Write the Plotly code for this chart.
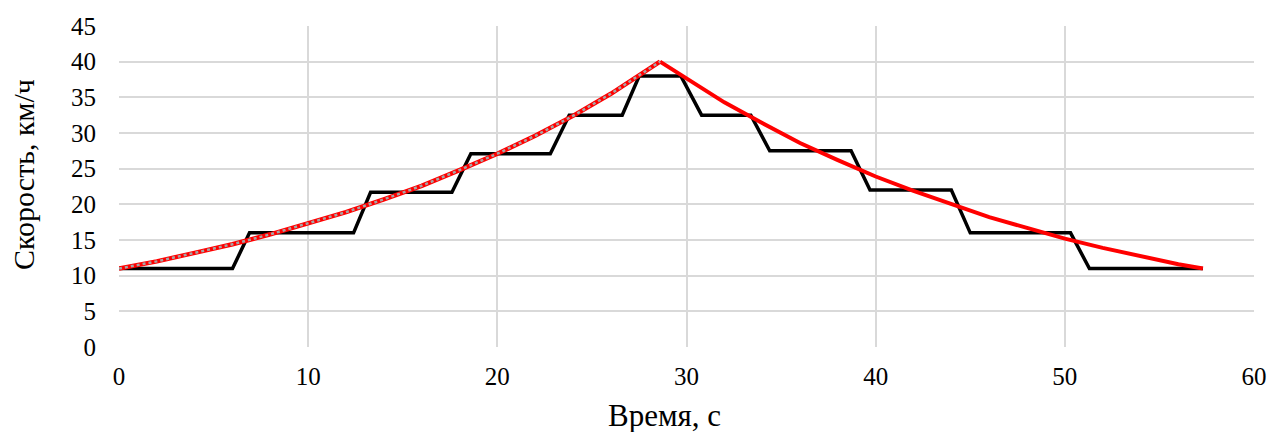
import plotly.graph_objects as go

# Stepped speed profile (black)
step_t = [0, 6.0, 6.9, 12.4, 13.3, 17.6, 18.6, 22.8, 23.8, 26.6, 27.5,
          29.7, 30.8, 33.4, 34.4, 38.7, 39.7, 44.0, 45.0, 50.3, 51.3, 57.3]
step_v = [11, 11, 16, 16, 21.7, 21.7, 27.1, 27.1, 32.5, 32.5, 38,
          38, 32.5, 32.5, 27.5, 27.5, 22, 22, 16, 16, 11, 11]

# Smooth speed curve (red), acceleration and deceleration parts
acc_t = [0, 2, 4, 6, 8, 10, 12, 14, 16, 18, 20, 22, 24, 26, 28.6]
acc_v = [11.0, 12.0, 13.2, 14.4, 15.8, 17.3, 18.9, 20.7, 22.6, 24.8, 27.1, 29.6, 32.4, 35.5, 40.0]
dec_t = [28.6, 30, 32, 34, 36, 38, 40, 42, 44, 46, 48, 50, 52, 54, 56, 57.3]
dec_v = [40.0, 37.6, 34.3, 31.4, 28.6, 26.2, 23.9, 21.9, 20.0, 18.2, 16.7, 15.2, 13.9, 12.7, 11.6, 11.0]

x_ticks = [0, 10, 20, 30, 40, 50, 60]
y_ticks = [0, 5, 10, 15, 20, 25, 30, 35, 40, 45]
x_title = "Время, с"
y_title = "Скорость, км/ч"

fig = go.Figure()
fig.add_trace(go.Scatter(x=step_t, y=step_v, mode="lines",
                         line=dict(color="black", width=3.5), showlegend=False))
fig.add_trace(go.Scatter(x=dec_t, y=dec_v, mode="lines",
                         line=dict(color="#ff0000", width=4), showlegend=False))
fig.add_trace(go.Scatter(x=acc_t, y=acc_v, mode="lines",
                         line=dict(color="#ff0000", width=4.5), showlegend=False))
fig.add_trace(go.Scatter(x=acc_t, y=acc_v, mode="lines",
                         line=dict(color="#a6a6a6", width=2.5, dash="3px,3px"), showlegend=False))

font = "Liberation Serif, Times New Roman, serif"
fig.update_layout(
    width=1270, height=432,
    margin=dict(l=119, r=16, t=26, b=85),
    paper_bgcolor="white", plot_bgcolor="white",
    font=dict(family=font, size=25, color="black"),
    xaxis=dict(range=[0, 60], tickvals=x_ticks, showgrid=True, gridcolor="#d9d9d9",
               gridwidth=1.5, zeroline=False, showline=False, ticks="",
               automargin=False, ticklabelstandoff=12, tickfont=dict(size=25)),
    yaxis=dict(range=[0, 45], tickvals=y_ticks, showgrid=True, gridcolor="#d9d9d9",
               gridwidth=1.5, zeroline=False, showline=False, ticks="",
               automargin=False, ticklabelstandoff=22, tickfont=dict(size=25)),
    annotations=[
        dict(text=x_title, xref="paper", yref="paper", x=0.481, y=-0.212,
             xanchor="center", yanchor="middle", showarrow=False,
             font=dict(family=font, size=31, color="black")),
        dict(text=y_title, xref="paper", yref="paper", x=-0.0837, y=0.536,
             xanchor="center", yanchor="middle", showarrow=False, textangle=-90,
             font=dict(family=font, size=30, color="black")),
    ],
)
fig.write_html("out.html", config={"displayModeBar": False},
               post_script="document.body.style.margin='0';document.body.style.padding='0';")
